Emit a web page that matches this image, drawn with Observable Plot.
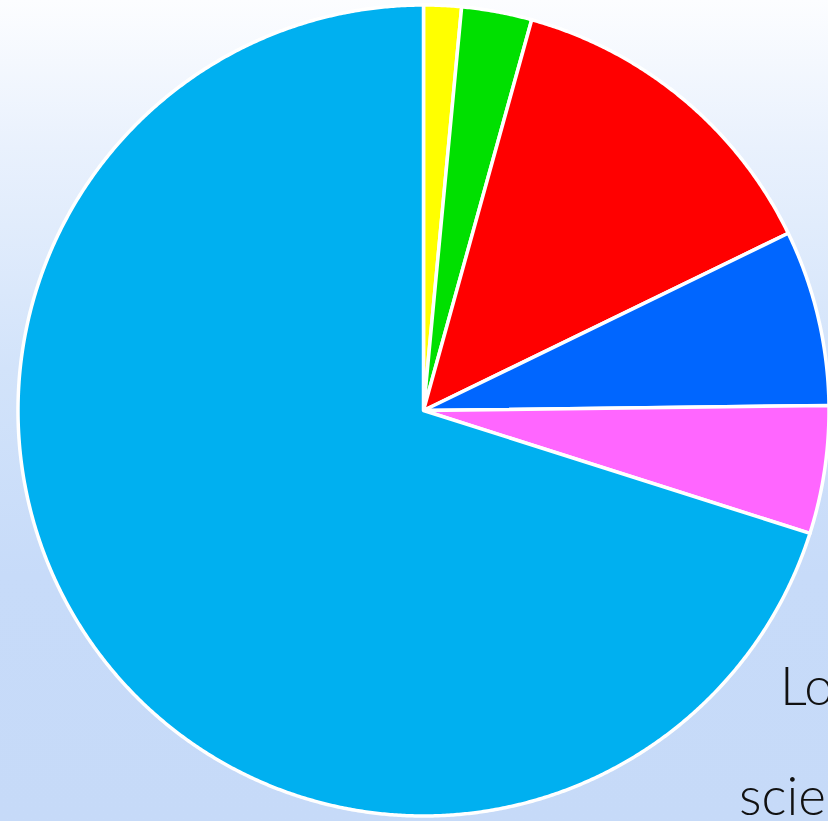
<!DOCTYPE html>
<html>
<head>
<meta charset="utf-8">
<script src="https://cdn.jsdelivr.net/npm/d3@7"></script>
<script src="https://cdn.jsdelivr.net/npm/@observablehq/plot@0.6"></script>
<style>
  html, body { margin: 0; padding: 0; width: 828px; height: 821px; overflow: hidden; }
  body { background: linear-gradient(to bottom, #fcfdff 0%, #e9f1fd 18%, #d2e3fa 45%, #c7dbf9 70%, #c6daf8 100%); position: relative; }
  #chart svg { display: block; background: transparent; }
  .lbl { position: absolute; font-family: Lato, "DejaVu Sans", sans-serif; font-weight: 300; font-size: 53px; color: #111; white-space: nowrap; line-height: 1; }
</style>
</head>
<body>
<div id="chart"></div>
<div class="lbl" id="l1" style="left:780px; top:658px;">Lo</div>
<div class="lbl" id="l2" style="left:739px; top:768px;">scie</div>
<script>
const categories = ["Segment 1", "Segment 2", "Segment 3", "Segment 4", "Segment 5", "Segment 6"];
const values = [1.5, 2.8, 13.5, 7.0, 5.1, 70.1];
const colors = ["#ffff00", "#00e000", "#ff0000", "#0066ff", "#ff66ff", "#00b0f0"];

const W = 828, H = 821, cx = 423, cy = 410, R = 405.5;

const arcs = d3.pie().sort(null).startAngle(0).endAngle(2 * Math.PI)(values);
const pts = [];
arcs.forEach((a, i) => {
  const name = categories[i];
  pts.push({name, x: 0, y: 0});
  const n = Math.max(2, Math.ceil((a.endAngle - a.startAngle) / 0.005));
  for (let k = 0; k <= n; k++) {
    const t = a.startAngle + (a.endAngle - a.startAngle) * k / n;
    pts.push({name, x: Math.sin(t), y: Math.cos(t)});
  }
});

const chart = Plot.plot({
  width: W,
  height: H,
  margin: 0,
  x: {domain: [-cx / R, (W - cx) / R], axis: null},
  y: {domain: [-(H - cy) / R, cy / R], axis: null},
  color: {type: "categorical", domain: categories, range: colors},
  style: {background: "transparent", overflow: "hidden"},
  marks: [
    Plot.line(pts, {x: "x", y: "y", z: "name", fill: "name", stroke: "white", strokeWidth: 3.5, strokeLinejoin: "round", curve: "linear-closed"})
  ]
});
document.getElementById("chart").appendChild(chart);
</script>
</body>
</html>
